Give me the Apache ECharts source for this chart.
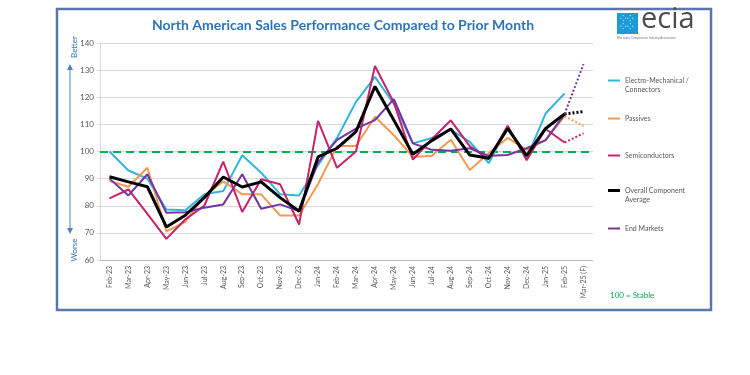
<!DOCTYPE html>
<html>
<head>
<meta charset="utf-8">
<script src="https://cdn.jsdelivr.net/npm/echarts@6/dist/echarts.min.js"></script>
<style>
  html, body { margin: 0; padding: 0; background: #fff; }
  #chart { width: 750px; height: 375px; }
</style>
</head>
<body>
<div id="chart"></div>
<script>
// months shown on the x axis
var months = ['Feb-23', 'Mar-23', 'Apr-23', 'May-23', 'Jun-23', 'Jul-23', 'Aug-23', 'Sep-23',
  'Oct-23', 'Nov-23', 'Dec-23', 'Jan-24', 'Feb-24', 'Mar-24', 'Apr-24', 'May-24', 'Jun-24',
  'Jul-24', 'Aug-24', 'Sep-24', 'Oct-24', 'Nov-24', 'Dec-24', 'Jan-25', 'Feb-25', 'Mar-25 (F)'];

// index values (100 = stable), Feb-23 .. Feb-25
var electroMech = [100, 93, 90, 78.6, 78.3, 84.2, 85.4, 98.6, 92.2, 84.2, 83.8, 95, 105, 118.3,
  127.5, 117.5, 103, 105, 108, 103.6, 95.7, 109, 97.5, 114, 121.4];
var passives = [89.1, 87, 94, 70.6, 74, 83.6, 89, 84.2, 84.2, 76.4, 76.4, 88, 102, 102,
  112.8, 106, 98, 98.4, 104.3, 93.2, 99.4, 105, 100.6, 104.2, 113];
var semis = [82.7, 86, 77, 67.8, 75, 80, 96.3, 77.7, 89.8, 87.9, 73.1, 111.3, 94, 100,
  131.5, 118, 97, 104.5, 111.5, 102, 97.2, 109.5, 96.8, 108.3, 103.3];
var overall = [90.7, 88.8, 87, 72.2, 76.5, 83, 90.6, 86.9, 88.8, 83, 78, 98, 101.2, 107.3,
  124, 111.5, 99, 104, 108.3, 98.7, 97.5, 108.5, 98.5, 108.5, 113.8];
var endMarkets = [90, 83.8, 91.6, 77.4, 77.6, 79.3, 80.5, 91.6, 78.9, 80.5, 78, 96, 104.3, 108.4,
  111.6, 119.3, 103, 100.6, 100.3, 101.2, 98.4, 98.7, 101.2, 104.2, 113.8];

// Mar-25 forecast (dotted), null = no forecast drawn
var marForecast = [null, 109.4, 106.7, 114.7, 132.2];

var seriesNames = ['Electro-Mechanical / Connectors', 'Passives', 'Semiconductors',
  'Overall Component Average', 'End Markets'];
var legendLabels = ['\nElectro-Mechanical /\nConnectors', 'Passives', 'Semiconductors',
  '\nOverall Component\nAverage', 'End Markets'];
var colors = ['#33b4de', '#f39a52', '#c8226a', '#000000', '#7434a2'];
var widths = [2, 2, 2, 3, 2];
var legendTops = [62, 109, 146, 172, 219];

var actuals = [electroMech, passives, semis, overall, endMarkets];

var series = [];
actuals.forEach(function (vals, i) {
  var s = {
    name: seriesNames[i],
    type: 'line',
    data: vals,
    symbol: 'none',
    color: colors[i],
    lineStyle: { width: widths[i], color: colors[i] },
    z: i == 3 ? 4 : 3
  };
  if (i == 0) {
    s.markLine = {
      silent: true,
      symbol: 'none',
      label: { show: false },
      lineStyle: { color: '#00b050', type: [8, 5], width: 2 },
      data: [{ yAxis: 100 }],
      z: 1
    };
  }
  series.push(s);
});

// dotted projection from Feb-25 to Mar-25
actuals.forEach(function (vals, i) {
  if (marForecast[i] == null) return;
  var d = months.map(function () { return null; });
  d[months.length - 2] = vals[vals.length - 1];
  d[months.length - 1] = marForecast[i];
  series.push({
    name: seriesNames[i] + ' (F)',
    type: 'line',
    data: d,
    symbol: 'none',
    color: colors[i],
    lineStyle: { width: widths[i], color: colors[i], type: [2, 2] },
    z: 3
  });
});

var legends = seriesNames.map(function (n, i) {
  return {
    data: [n],
    orient: 'vertical',
    left: 603,
    top: legendTops[i],
    icon: 'rect',
    itemWidth: 12,
    itemHeight: widths[i],
    selectedMode: false,
    formatter: function () { return legendLabels[i]; },
    textStyle: { fontSize: 7, color: '#595959', lineHeight: 9, fontFamily: 'Lato' }
  };
});

var chart = echarts.init(document.getElementById('chart'));
var option = {
  backgroundColor: '#fff',
  animation: false,
  title: {
    text: 'North American Sales Performance Compared to Prior Month',
    left: 338,
    top: 13,
    textAlign: 'center',
    textStyle: { color: '#2e75b6', fontSize: 14, fontWeight: 'bold', fontFamily: 'Lato' }
  },
  legend: legends,
  grid: { left: 100, right: 157, top: 43, bottom: 115 },
  xAxis: {
    type: 'category',
    data: months,
    boundaryGap: true,
    axisLine: { lineStyle: { color: '#bfbfbf' } },
    axisTick: { length: 3, lineStyle: { color: '#bfbfbf' } },
    axisLabel: { rotate: 90, fontSize: 7, color: '#595959', margin: 6, interval: 0, fontFamily: 'Lato' }
  },
  yAxis: {
    type: 'value',
    min: 60,
    max: 140,
    interval: 10,
    axisLine: { show: true, lineStyle: { color: '#d9d9d9' } },
    axisTick: { show: true, length: 3, lineStyle: { color: '#d9d9d9' } },
    axisLabel: { fontSize: 8, color: '#595959', margin: 6, fontFamily: 'Lato' },
    splitLine: { lineStyle: { color: '#d9d9d9', width: 1 } }
  },
  series: series,
  graphic: [
    { type: 'rect', shape: { x: 57, y: 9, width: 654, height: 301 },
      style: { fill: 'none', stroke: '#5a76aa', lineWidth: 2.5 }, z: 0 },
    // better / worse arrow
    { type: 'line', shape: { x1: 70, y1: 68, x2: 70, y2: 230 },
      style: { stroke: '#4f81bd', lineWidth: 1 } },
    { type: 'polygon', shape: { points: [[67, 70], [73, 70], [70, 64]] }, style: { fill: '#4f81bd' } },
    { type: 'polygon', shape: { points: [[67, 228], [73, 228], [70, 234]] }, style: { fill: '#4f81bd' } },
    { type: 'text', x: 74, y: 47, rotation: Math.PI / 2,
      style: { text: 'Better', fill: '#2e75b6', fontSize: 8, fontFamily: 'Lato', align: 'center', verticalAlign: 'middle' } },
    { type: 'text', x: 74, y: 250, rotation: Math.PI / 2,
      style: { text: 'Worse', fill: '#2e75b6', fontSize: 8, fontFamily: 'Lato', align: 'center', verticalAlign: 'middle' } },
    // logo
    { type: 'rect', shape: { x: 617, y: 13, width: 21, height: 21 }, style: { fill: '#1c9bd7' } },
    { type: 'text', x: 620, y: 15, style: { text: '⁘⁘\n⁘⁘', fill: '#fff', fontSize: 8, lineHeight: 8 } },
    { type: 'text', x: 641, y: 5, style: { text: 'ecia', fill: '#4d4d4d', fontSize: 29, fontFamily: 'Open Sans' } },
    { type: 'text', x: 617, y: 37, style: { text: 'Electronic Components Industry Association', fill: '#777', fontSize: 3 } },
    { type: 'text', x: 610, y: 291, style: { text: '100 = Stable', fill: '#00b050', fontSize: 8, fontFamily: 'Lato' } }
  ]
};
chart.setOption(option);
</script>
</body>
</html>
